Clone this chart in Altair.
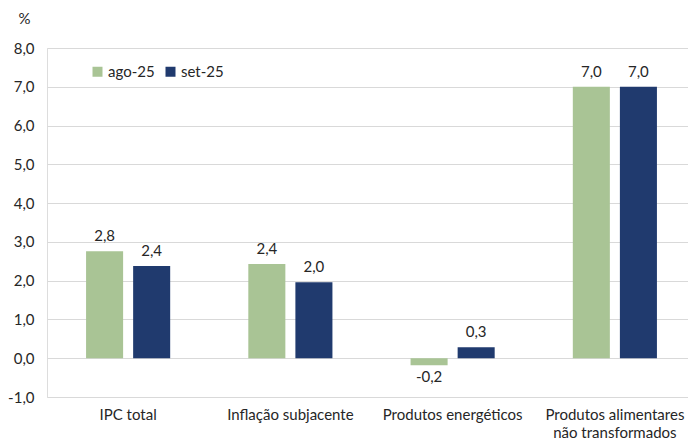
import altair as alt
import pandas as pd

categories = ["IPC total", "Inflação subjacente", "Produtos energéticos",
              "Produtos alimentares não transformados"]
series = ["ago-25", "set-25"]
ago_values = [2.76, 2.43, -0.18, 7.0]
set_values = [2.38, 1.96, 0.28, 7.0]
y_ticks = [-1, 0, 1, 2, 3, 4, 5, 6, 7, 8]
colors = ["#a9c495", "#203a6e"]

rows = []
for c, a, s in zip(categories, ago_values, set_values):
    rows.append({"cat": c, "serie": series[0], "v": a})
    rows.append({"cat": c, "serie": series[1], "v": s})
df = pd.DataFrame(rows)

FONT = "Lato"
TXT = "#262626"
FS = 15

fmt = "replace(replace(format({f},'.1f'),'.',','),'\u2212','-')"

x = alt.X("cat:N", sort=categories, title=None,
          scale=alt.Scale(paddingInner=0, paddingOuter=0, range=[0, 649]),
          axis=alt.Axis(domain=False, ticks=False, grid=False, labelAngle=0,
                        labelPadding=10, labelFontSize=FS, labelColor=TXT,
                        labelFont=FONT, labelLineHeight=18,
                        labelExpr="datum.value == 'Produtos alimentares não transformados' ? ['Produtos alimentares', 'não transformados'] : datum.value"))
xo = alt.XOffset("serie:N", sort=series,
                 scale=alt.Scale(paddingInner=0.213, paddingOuter=0.83))
y = alt.Y("v:Q", scale=alt.Scale(domain=[-1, 8], nice=False, zero=False),
          axis=alt.Axis(values=y_ticks, domain=False, ticks=False,
                        gridColor="#d9d9d9", gridWidth=1,
                        labelPadding=13, labelFontSize=FS, labelColor=TXT, labelFont=FONT,
                        labelExpr=fmt.format(f="datum.value"),
                        title="%", titleAngle=0, titleX=-23, titleY=-30,
                        titleAlign="center", titleBaseline="middle",
                        titleFontWeight="normal", titleFontSize=FS, titleFont=FONT,
                        titleColor=TXT))
color = alt.Color("serie:N", sort=series,
                  scale=alt.Scale(domain=series, range=colors),
                  legend=alt.Legend(orient="none", legendX=43, legendY=16,
                                    direction="horizontal", title=None,
                                    symbolType="square", symbolSize=100,
                                    symbolStrokeWidth=0,
                                    labelFontSize=FS, labelFont=FONT, labelColor=TXT,
                                    labelOffset=3, columnPadding=8))

base = alt.Chart(df).transform_calculate(lab=fmt.format(f="datum.v"))

bars = base.mark_bar().encode(x=x, xOffset=xo, y=y, color=color)
pos = base.transform_filter("datum.v >= 0").mark_text(
    baseline="bottom", dy=-7, fontSize=FS, font=FONT, color=TXT
).encode(x=x, xOffset=xo, y=y, text="lab:N")
neg = base.transform_filter("datum.v < 0").mark_text(
    baseline="top", dy=5, fontSize=FS, font=FONT, color=TXT
).encode(x=x, xOffset=xo, y=y, text="lab:N")

chart = alt.layer(bars, pos, neg).properties(
    width=641, height=349,
    autosize=alt.AutoSizeParams(type="none"),
    padding={"left": 39, "top": 40, "right": 0, "bottom": 46},
).configure_view(stroke=None).configure(font=FONT)

chart.save("out.html", embed_options={"renderer": "svg", "actions": False})
